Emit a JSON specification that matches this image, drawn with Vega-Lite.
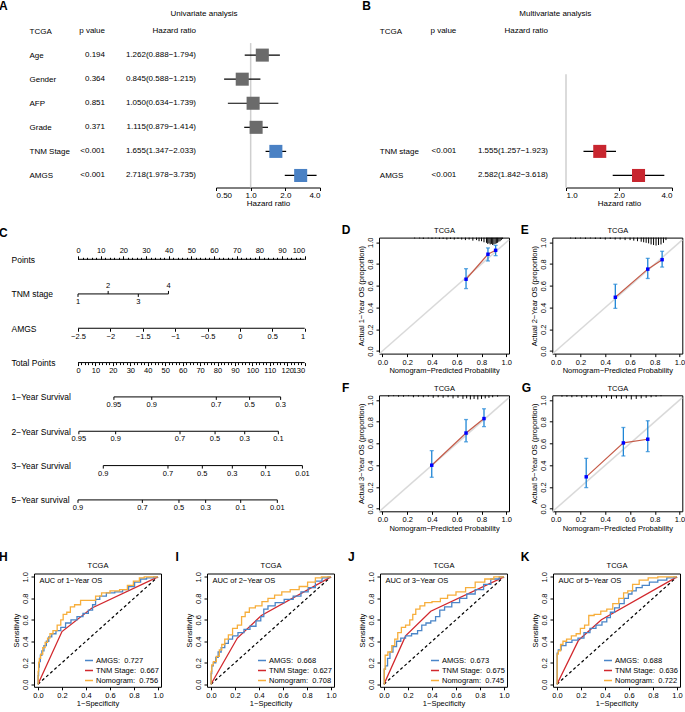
{
"$schema":"https://vega.github.io/schema/vega-lite/v6.json",
"padding":{"left":-2,"top":0,"right":0,"bottom":0},
"background":"white",
"config":{
 "font":"Liberation Sans",
 "view":{"stroke":null},
 "axis":{"labelFont":"Liberation Sans","titleFont":"Liberation Sans","labelColor":"black","titleColor":"black","domainColor":"black","tickColor":"black","grid":false,"titleFontWeight":"normal","labelFontSize":7.5,"titleFontSize":7.5},
 "title":{"font":"Liberation Sans","fontWeight":"normal","fontSize":7.5,"color":"black"},
 "legend":{"labelFont":"Liberation Sans","labelColor":"black"},
 "text":{"font":"Liberation Sans","color":"black"}
},
"datasets":{
 "uni":[
  {"var":"TCGA","p":"p value","hr":"Hazard ratio"},
  {"var":"Age","p":"0.194","hr":"1.262(0.888−1.794)","est":1.262,"lo":0.888,"hi":1.794},
  {"var":"Gender","p":"0.364","hr":"0.845(0.588−1.215)","est":0.845,"lo":0.588,"hi":1.215},
  {"var":"AFP","p":"0.851","hr":"1.050(0.634−1.739)","est":1.05,"lo":0.634,"hi":1.739},
  {"var":"Grade","p":"0.371","hr":"1.115(0.879−1.414)","est":1.115,"lo":0.879,"hi":1.414},
  {"var":"TNM Stage","p":"<0.001","hr":"1.655(1.347−2.033)","est":1.655,"lo":1.347,"hi":2.033},
  {"var":"AMGS","p":"<0.001","hr":"2.718(1.978−3.735)","est":2.718,"lo":1.978,"hi":3.735}
 ],
 "multi":[
  {"var":"TCGA","p":"p value","hr":"Hazard ratio"},
  {"var":"TNM stage","p":"<0.001","hr":"1.555(1.257−1.923)","est":1.555,"lo":1.257,"hi":1.923},
  {"var":"AMGS","p":"<0.001","hr":"2.582(1.842−3.618)","est":2.582,"lo":1.842,"hi":3.618}
 ],
 "nomo_scales":[
  {"row":"Points","lo":0,"hi":100},
  {"row":"AMGS","lo":-2.5,"hi":1},
  {"row":"Total Points","lo":0,"hi":130}
 ],
 "nomo_ticks":[
  {"row":"TNM stage","pos":0,"label":"1","side":"below"},
  {"row":"TNM stage","pos":13.3,"label":"2","side":"above"},
  {"row":"TNM stage","pos":26.6,"label":"3","side":"below"},
  {"row":"TNM stage","pos":39.9,"label":"4","side":"above"},
  {"row":"1−Year Survival","pos":20.6,"label":"0.95","side":"below"},
  {"row":"1−Year Survival","pos":42.3,"label":"0.9","side":"below"},
  {"row":"1−Year Survival","pos":79.3,"label":"0.7","side":"below"},
  {"row":"1−Year Survival","pos":98.4,"label":"0.5","side":"below"},
  {"row":"1−Year Survival","pos":116.2,"label":"0.3","side":"below"},
  {"row":"2−Year Survival","pos":0.5,"label":"0.95","side":"below"},
  {"row":"2−Year Survival","pos":21.6,"label":"0.9","side":"below"},
  {"row":"2−Year Survival","pos":58.5,"label":"0.7","side":"below"},
  {"row":"2−Year Survival","pos":78.6,"label":"0.5","side":"below"},
  {"row":"2−Year Survival","pos":95.6,"label":"0.3","side":"below"},
  {"row":"2−Year Survival","pos":114.9,"label":"0.1","side":"below"},
  {"row":"3−Year Survival","pos":14.5,"label":"0.9","side":"below"},
  {"row":"3−Year Survival","pos":51.6,"label":"0.7","side":"below"},
  {"row":"3−Year Survival","pos":71.3,"label":"0.5","side":"below"},
  {"row":"3−Year Survival","pos":88.5,"label":"0.3","side":"below"},
  {"row":"3−Year Survival","pos":107.6,"label":"0.1","side":"below"},
  {"row":"3−Year Survival","pos":128.7,"label":"0.01","side":"below"},
  {"row":"5−Year survival","pos":0,"label":"0.9","side":"below"},
  {"row":"5−Year survival","pos":36.9,"label":"0.7","side":"below"},
  {"row":"5−Year survival","pos":57.9,"label":"0.5","side":"below"},
  {"row":"5−Year survival","pos":73.2,"label":"0.3","side":"below"},
  {"row":"5−Year survival","pos":93.3,"label":"0.1","side":"below"},
  {"row":"5−Year survival","pos":114.3,"label":"0.01","side":"below"}
 ],
 "cal":[
  {"panel":"D","pred":0.675,"obs":0.66,"lo":0.574,"hi":0.757},
  {"panel":"D","pred":0.852,"obs":0.89,"lo":0.828,"hi":0.948},
  {"panel":"D","pred":0.914,"obs":0.926,"lo":0.877,"hi":0.972},
  {"panel":"E","pred":0.481,"obs":0.494,"lo":0.392,"hi":0.614},
  {"panel":"E","pred":0.743,"obs":0.753,"lo":0.667,"hi":0.852},
  {"panel":"E","pred":0.859,"obs":0.84,"lo":0.772,"hi":0.917},
  {"panel":"F","pred":0.398,"obs":0.4,"lo":0.289,"hi":0.534},
  {"panel":"F","pred":0.675,"obs":0.696,"lo":0.615,"hi":0.82},
  {"panel":"F","pred":0.82,"obs":0.829,"lo":0.755,"hi":0.919},
  {"panel":"G","pred":0.246,"obs":0.293,"lo":0.194,"hi":0.463},
  {"panel":"G","pred":0.546,"obs":0.605,"lo":0.485,"hi":0.747},
  {"panel":"G","pred":0.743,"obs":0.639,"lo":0.525,"hi":0.809}
 ],
 "spikes":[
  {"panel":"D","p":[0.26,0.3,0.33,0.37,0.4,0.43,0.46,0.49,0.52,0.55,0.58,0.61,0.64,0.67,0.7,0.73,0.76,0.78,0.8,0.82,0.84,0.85,0.86,0.87,0.88,0.89,0.9,0.91,0.92,0.93,0.94,0.95,0.96,0.97],
   "lo":[1.035,1.035,1.03,1.035,1.03,1.035,1.03,1.03,1.025,1.03,1.025,1.03,1.025,1.02,1.025,1.015,1.02,1.01,1.01,1.0,0.995,0.985,0.99,0.98,0.985,0.975,0.98,0.985,0.99,0.995,1.005,1.01,1.02,1.03]},
  {"panel":"E","p":[0.12,0.16,0.2,0.24,0.28,0.32,0.36,0.4,0.44,0.48,0.52,0.56,0.6,0.63,0.66,0.69,0.71,0.73,0.75,0.77,0.79,0.81,0.83,0.85,0.87,0.89],
   "lo":[1.035,1.03,1.035,1.03,1.035,1.03,1.03,1.025,1.03,1.025,1.025,1.02,1.02,1.015,1.01,1.005,1.0,0.995,0.99,0.98,0.975,0.97,0.975,0.98,0.995,1.02]},
  {"panel":"F","p":[0.05,0.09,0.13,0.17,0.21,0.25,0.29,0.33,0.37,0.41,0.45,0.49,0.53,0.57,0.61,0.65,0.68,0.71,0.74,0.77,0.8,0.83,0.86,0.89,0.93],
   "lo":[1.03,1.035,1.03,1.03,1.035,1.025,1.03,1.025,1.03,1.02,1.025,1.02,1.025,1.015,1.02,1.01,1.015,1.005,1.01,1.005,1.01,1.015,1.02,1.025,1.03]},
  {"panel":"G","p":[0.05,0.09,0.13,0.17,0.21,0.25,0.29,0.33,0.37,0.41,0.45,0.49,0.53,0.57,0.61,0.65,0.69,0.73,0.77,0.81,0.85],
   "lo":[1.03,1.03,1.025,1.03,1.02,1.025,1.02,1.025,1.015,1.02,1.01,1.015,1.01,1.015,1.005,1.01,1.015,1.02,1.025,1.03,1.035]}
 ],
 "roc":[
  {"panel":"H","model":"AMGS","auc":"0.727","fpr":[0,0.003,0.008,0.015,0.025,0.04,0.06,0.08,0.1,0.13,0.17,0.21,0.25,0.3,0.35,0.4,0.44,0.47,0.49,0.54,0.6,0.68,0.73,0.78,0.83,0.88,0.93,1],"tpr":[0,0.08,0.16,0.21,0.27,0.31,0.36,0.4,0.44,0.47,0.5,0.53,0.57,0.6,0.63,0.66,0.69,0.74,0.79,0.82,0.85,0.86,0.88,0.91,0.95,0.98,0.99,1]},
  {"panel":"H","model":"TNM Stage","auc":"0.667","fpr":[0,0.2,0.45,1],"tpr":[0,0.49,0.71,1]},
  {"panel":"H","model":"Nomogram","auc":"0.756","fpr":[0,0.003,0.008,0.015,0.03,0.05,0.07,0.09,0.11,0.14,0.18,0.2,0.22,0.26,0.28,0.33,0.38,0.46,0.5,0.56,0.64,0.72,0.77,0.82,0.87,0.9,1],"tpr":[0,0.12,0.2,0.24,0.28,0.34,0.39,0.43,0.47,0.5,0.55,0.6,0.65,0.67,0.72,0.74,0.78,0.78,0.82,0.85,0.87,0.88,0.92,0.96,0.99,1,1]},
  {"panel":"I","model":"AMGS","auc":"0.668","fpr":[0,0.003,0.01,0.03,0.05,0.07,0.1,0.13,0.16,0.2,0.25,0.3,0.35,0.4,0.43,0.45,0.5,0.57,0.65,0.72,0.78,0.84,0.9,0.95,1],"tpr":[0,0.1,0.17,0.2,0.25,0.3,0.34,0.38,0.42,0.45,0.48,0.51,0.54,0.59,0.63,0.7,0.73,0.76,0.79,0.82,0.86,0.9,0.96,0.99,1]},
  {"panel":"I","model":"TNM Stage","auc":"0.627","fpr":[0,0.22,0.42,1],"tpr":[0,0.43,0.64,1]},
  {"panel":"I","model":"Nomogram","auc":"0.708","fpr":[0,0.003,0.01,0.03,0.06,0.08,0.1,0.13,0.16,0.2,0.24,0.27,0.3,0.34,0.4,0.45,0.5,0.56,0.62,0.7,0.77,0.84,0.9,0.94,1],"tpr":[0,0.12,0.18,0.21,0.26,0.32,0.37,0.42,0.46,0.52,0.55,0.63,0.67,0.71,0.73,0.77,0.8,0.83,0.86,0.88,0.91,0.95,0.99,1,1]},
  {"panel":"J","model":"AMGS","auc":"0.673","fpr":[0,0.005,0.02,0.04,0.06,0.09,0.12,0.16,0.2,0.26,0.3,0.33,0.37,0.41,0.45,0.48,0.53,0.6,0.66,0.72,0.8,0.86,0.92,1],"tpr":[0,0.14,0.17,0.24,0.3,0.35,0.4,0.43,0.45,0.47,0.5,0.55,0.57,0.59,0.63,0.69,0.72,0.76,0.8,0.84,0.88,0.93,0.98,1]},
  {"panel":"J","model":"TNM Stage","auc":"0.675","fpr":[0,0.18,0.39,1],"tpr":[0,0.45,0.68,1]},
  {"panel":"J","model":"Nomogram","auc":"0.745","fpr":[0,0.005,0.015,0.05,0.08,0.1,0.13,0.16,0.2,0.23,0.25,0.28,0.32,0.36,0.44,0.5,0.56,0.64,0.72,0.8,0.88,0.95,1],"tpr":[0,0.14,0.27,0.3,0.36,0.42,0.48,0.53,0.55,0.6,0.65,0.7,0.73,0.76,0.77,0.8,0.83,0.86,0.9,0.95,0.98,1,1]},
  {"panel":"K","model":"AMGS","auc":"0.688","fpr":[0,0.003,0.02,0.05,0.1,0.15,0.2,0.25,0.3,0.35,0.4,0.43,0.46,0.5,0.54,0.58,0.61,0.64,0.68,0.74,0.8,0.88,0.95,1],"tpr":[0,0.29,0.32,0.36,0.39,0.41,0.43,0.48,0.52,0.55,0.58,0.62,0.67,0.71,0.75,0.8,0.84,0.87,0.9,0.92,0.95,0.97,0.99,1]},
  {"panel":"K","model":"TNM Stage","auc":"0.636","fpr":[0,0.18,0.37,1],"tpr":[0,0.41,0.6,1]},
  {"panel":"K","model":"Nomogram","auc":"0.722","fpr":[0,0.003,0.02,0.04,0.06,0.1,0.14,0.18,0.21,0.25,0.28,0.34,0.39,0.44,0.49,0.54,0.57,0.61,0.65,0.72,0.8,0.88,1],"tpr":[0,0.28,0.31,0.37,0.4,0.42,0.45,0.47,0.52,0.55,0.64,0.65,0.68,0.7,0.75,0.8,0.85,0.87,0.93,0.97,0.99,1,1]}
 ]
},
"vconcat":[
 {"vconcat":[
  {"hconcat":[
   {"width":71,"height":168.5,
    "title":{"text":"A","anchor":"start","frame":"group","fontSize":12,"fontWeight":"bold","dx":-35,"offset":6},
    "data":{"name":"uni"},
    "mark":{"type":"text","align":"right","baseline":"middle","fontSize":8},
    "encoding":{
     "y":{"field":"var","type":"nominal","sort":null,"scale":{"domain":["TCGA","Age","Gender","AFP","Grade","TNM Stage","AMGS"],"paddingInner":0,"paddingOuter":0},"axis":{"title":null,"domain":false,"ticks":false,"labelAlign":"left","labelPadding":5,"labelFontSize":8,"labelBaseline":"middle"}},
     "x":{"value":"width"},
     "text":{"field":"p","type":"nominal"}
    }},
   {"width":110.7,"height":168.5,
    "data":{"name":"uni"},
    "mark":{"type":"text","align":"right","baseline":"middle","fontSize":8,"dx":-19.7},
    "encoding":{
     "y":{"field":"var","type":"nominal","sort":null,"scale":{"domain":["TCGA","Age","Gender","AFP","Grade","TNM Stage","AMGS"],"paddingInner":0,"paddingOuter":0},"axis":null},
     "x":{"value":"width"},
     "text":{"field":"hr","type":"nominal"}
    }},
   {"width":104,"height":168.5,
    "title":{"text":"Univariate analysis","anchor":"middle","dx":-64,"offset":1,"fontSize":8},
    "data":{"name":"uni"},
    "encoding":{"y":{"field":"var","type":"nominal","sort":null,"scale":{"domain":["TCGA","Age","Gender","AFP","Grade","TNM Stage","AMGS"],"paddingInner":0,"paddingOuter":0},"axis":null}},
    "layer":[
     {"transform":[{"aggregate":[{"op":"count","as":"n"}]}],
      "mark":{"type":"rule","color":"#CFCFCF","strokeWidth":1.5},
      "encoding":{"x":{"datum":1,"type":"quantitative","scale":{"type":"log","domain":[0.5,4],"nice":false}},"y":{"datum":"Age","type":"nominal","bandPosition":0,"axis":null},"y2":{"value":"height"}}},
     {"transform":[{"filter":"isValid(datum.est)"}],
      "mark":{"type":"rule","color":"black","strokeWidth":1.2},
      "encoding":{"x":{"field":"lo","type":"quantitative","scale":{"type":"log","domain":[0.5,4],"nice":false},"axis":{"values":[0.5,1,2,4],"labelExpr":"datum.value === 0.5 ? '0.50' : format(datum.value, '.1f')","title":"Hazard ratio","tickSize":3,"labelPadding":1,"titlePadding":0,"labelFontSize":8,"titleFontSize":8,"labelOverlap":false}},"x2":{"field":"hi"}}},
     {"transform":[{"filter":"isValid(datum.est)"}],
      "mark":{"type":"square","size":170,"opacity":1,"filled":true},
      "encoding":{"x":{"field":"est","type":"quantitative","scale":{"type":"log","domain":[0.5,4],"nice":false}},"color":{"condition":{"test":"datum.p === '<0.001'","value":"#4A81C4"},"value":"#6B6B6B"}}}
    ]},
   {"width":136.3,"height":168.5,
    "title":{"text":"B","anchor":"start","frame":"group","fontSize":12,"fontWeight":"bold","dx":42.3,"offset":6},
    "data":{"name":"multi"},
    "mark":{"type":"text","align":"right","baseline":"middle","fontSize":8},
    "encoding":{
     "y":{"field":"var","type":"nominal","sort":null,"scale":{"domain":["TCGA","_1","_2","_3","_4","TNM stage","AMGS"],"paddingInner":0,"paddingOuter":0},"axis":{"title":null,"domain":false,"ticks":false,"labelAlign":"left","labelPadding":-59.3,"labelFontSize":8,"labelBaseline":"middle","labelExpr":"indexof(datum.value, '_') === 0 ? '' : datum.label"}},
     "x":{"value":"width"},
     "text":{"field":"p","type":"nominal"}
    }},
   {"width":108.7,"height":168.5,
    "data":{"name":"multi"},
    "mark":{"type":"text","align":"right","baseline":"middle","fontSize":8,"dx":-17.7},
    "encoding":{
     "y":{"field":"var","type":"nominal","sort":null,"scale":{"domain":["TCGA","_1","_2","_3","_4","TNM stage","AMGS"],"paddingInner":0,"paddingOuter":0},"axis":null},
     "x":{"value":"width"},
     "text":{"field":"hr","type":"nominal"}
    }},
   {"width":106,"height":168.5,
    "title":{"text":"Multivariate analysis","anchor":"middle","dx":-63.7,"offset":1,"fontSize":8},
    "data":{"name":"multi"},
    "encoding":{"y":{"field":"var","type":"nominal","sort":null,"scale":{"domain":["TCGA","_1","_2","_3","_4","TNM stage","AMGS"],"paddingInner":0,"paddingOuter":0},"axis":null}},
    "layer":[
     {"transform":[{"aggregate":[{"op":"count","as":"n"}]}],
      "mark":{"type":"rule","color":"#CFCFCF","strokeWidth":1.5},
      "encoding":{"x":{"datum":1,"type":"quantitative","scale":{"type":"log","domain":[1,4],"nice":false}},"y":{"datum":"_2","type":"nominal","bandPosition":0.3,"axis":null},"y2":{"value":"height"}}},
     {"transform":[{"filter":"isValid(datum.est)"}],
      "mark":{"type":"rule","color":"black","strokeWidth":1.2},
      "encoding":{"x":{"field":"lo","type":"quantitative","scale":{"type":"log","domain":[1,4],"nice":false},"axis":{"values":[1,2,4],"format":".1f","title":"Hazard ratio","tickSize":3,"labelPadding":1,"titlePadding":0,"labelFontSize":8,"titleFontSize":8,"labelOverlap":false}},"x2":{"field":"hi"}}},
     {"transform":[{"filter":"isValid(datum.est)"}],
      "mark":{"type":"square","size":170,"opacity":1,"filled":true,"color":"#C8262F"},
      "encoding":{"x":{"field":"est","type":"quantitative","scale":{"type":"log","domain":[1,4],"nice":false}}}}
    ]}
  ],"spacing":0,"bounds":"flush"},
  {"hconcat":[
   {"vconcat":[
    {"width":270.7,"height":27.7,
     "title":{"text":"C","anchor":"start","frame":"group","fontSize":12,"fontWeight":"bold","dx":-35,"offset":0,"dy":2},
     "data":{"name":"nomo_scales"},
     "transform":[{"filter":"datum.row === 'Points'"}],
     "mark":{"type":"rule","color":"black","strokeWidth":1},
     "encoding":{
      "x":{"field":"lo","type":"quantitative","scale":{"domain":[-19.41,100],"nice":false,"zero":false},"axis":{"orient":"top","offset":-21.7,"domain":false,"title":null,"values":[0,2,4,6,8,10,12,14,16,18,20,22,24,26,28,30,32,34,36,38,40,42,44,46,48,50,52,54,56,58,60,62,64,66,68,70,72,74,76,78,80,82,84,86,88,90,92,94,96,98,100],"labelExpr":"datum.value % 10 === 0 ? datum.label : ''","tickSize":{"condition":{"test":"datum.value % 10 === 0","value":3.5},"value":2},"labelPadding":1,"labelOverlap":false}},
      "x2":{"field":"hi"},
      "y":{"datum":0,"type":"quantitative","scale":{"domain":[-1,3.617],"nice":false,"zero":false},"axis":{"title":"Points","domain":false,"ticks":false,"labels":false,"titleAngle":0,"titleAlign":"left","titleBaseline":"middle","titlePadding":23,"titleY":21.7,"titleFontSize":8.5}}
     }},
    {"width":270.7,"height":12,
     "data":{"name":"nomo_ticks"},
     "transform":[{"filter":"datum.row === 'TNM stage'"}],
     "encoding":{
      "x":{"field":"pos","type":"quantitative","scale":{"domain":[-19.41,100],"nice":false,"zero":false},"axis":null},
      "y":{"datum":0,"type":"quantitative","scale":{"domain":[-1,1],"nice":false},"axis":{"title":"TNM stage","domain":false,"ticks":false,"labels":false,"titleAngle":0,"titleAlign":"left","titleBaseline":"middle","titlePadding":23,"titleFontSize":8.5}}
     },
     "layer":[
      {"mark":{"type":"rule","color":"black"},"encoding":{"x":{"aggregate":"min","field":"pos","type":"quantitative","scale":{"domain":[-19.41,100],"nice":false,"zero":false},"axis":null},"x2":{"aggregate":"max","field":"pos"}}},
      {"transform":[{"filter":"datum.side === 'above'"}],"mark":{"type":"rule","color":"black"},"encoding":{"y2":{"datum":0.5}}},
      {"transform":[{"filter":"datum.side !== 'above'"}],"mark":{"type":"rule","color":"black"},"encoding":{"y2":{"datum":-0.5}}},
      {"transform":[{"filter":"datum.side === 'above'"}],"mark":{"type":"text","baseline":"bottom","dy":-4,"fontSize":7.5},"encoding":{"text":{"field":"label"}}},
      {"transform":[{"filter":"datum.side !== 'above'"}],"mark":{"type":"text","baseline":"top","dy":4,"fontSize":7.5},"encoding":{"text":{"field":"label"}}}
     ]},
    {"width":270.7,"height":12,
     "data":{"name":"nomo_scales"},
     "transform":[{"filter":"datum.row === 'AMGS'"}],
     "mark":{"type":"rule","color":"black","strokeWidth":1},
     "encoding":{
      "x":{"field":"lo","type":"quantitative","scale":{"domain":[-3.179,1],"nice":false,"zero":false},"axis":{"orient":"bottom","offset":-6,"domain":false,"title":null,"values":[-2.5,-2,-1.5,-1,-0.5,0,0.5,1],"format":".1~f","tickSize":3,"labelPadding":1.5,"labelOverlap":false}},
      "x2":{"field":"hi"},
      "y":{"datum":0,"type":"quantitative","scale":{"domain":[-1,1],"nice":false},"axis":{"title":"AMGS","domain":false,"ticks":false,"labels":false,"titleAngle":0,"titleAlign":"left","titleBaseline":"middle","titlePadding":23,"titleFontSize":8.5}}
     }},
    {"width":270.7,"height":12,
     "data":{"name":"nomo_scales"},
     "transform":[{"filter":"datum.row === 'Total Points'"}],
     "mark":{"type":"rule","color":"black","strokeWidth":1},
     "encoding":{
      "x":{"field":"lo","type":"quantitative","scale":{"domain":[-25.23,130],"nice":false,"zero":false},"axis":{"orient":"bottom","offset":-6,"domain":false,"title":null,"values":[0,2,4,6,8,10,12,14,16,18,20,22,24,26,28,30,32,34,36,38,40,42,44,46,48,50,52,54,56,58,60,62,64,66,68,70,72,74,76,78,80,82,84,86,88,90,92,94,96,98,100,102,104,106,108,110,112,114,116,118,120,122,124,126,128,130],"labelExpr":"datum.value % 10 === 0 ? datum.label : ''","tickSize":{"condition":{"test":"datum.value % 10 === 0","value":3},"value":2},"labelPadding":1,"labelOverlap":false}},
      "x2":{"field":"hi"},
      "y":{"datum":0,"type":"quantitative","scale":{"domain":[-1,1],"nice":false},"axis":{"title":"Total Points","domain":false,"ticks":false,"labels":false,"titleAngle":0,"titleAlign":"left","titleBaseline":"middle","titlePadding":23,"titleFontSize":8.5}}
     }},
    {"width":270.7,"height":12,
     "data":{"name":"nomo_ticks"},
     "transform":[{"filter":"datum.row === '1−Year Survival'"}],
     "encoding":{
      "x":{"field":"pos","type":"quantitative","scale":{"domain":[-25.23,130],"nice":false,"zero":false},"axis":null},
      "y":{"datum":0,"type":"quantitative","scale":{"domain":[-1,1],"nice":false},"axis":{"title":"1−Year Survival","domain":false,"ticks":false,"labels":false,"titleAngle":0,"titleAlign":"left","titleBaseline":"middle","titlePadding":23,"titleFontSize":8.5}}
     },
     "layer":[
      {"mark":{"type":"rule","color":"black"},"encoding":{"x":{"aggregate":"min","field":"pos","type":"quantitative","scale":{"domain":[-25.23,130],"nice":false,"zero":false},"axis":null},"x2":{"aggregate":"max","field":"pos"}}},
      {"mark":{"type":"rule","color":"black"},"encoding":{"y2":{"datum":-0.5}}},
      {"mark":{"type":"text","baseline":"top","dy":4,"fontSize":7.5},"encoding":{"text":{"field":"label"}}}
     ]},
    {"width":270.7,"height":12,
     "data":{"name":"nomo_ticks"},
     "transform":[{"filter":"datum.row === '2−Year Survival'"}],
     "encoding":{
      "x":{"field":"pos","type":"quantitative","scale":{"domain":[-25.23,130],"nice":false,"zero":false},"axis":null},
      "y":{"datum":0,"type":"quantitative","scale":{"domain":[-1,1],"nice":false},"axis":{"title":"2−Year Survival","domain":false,"ticks":false,"labels":false,"titleAngle":0,"titleAlign":"left","titleBaseline":"middle","titlePadding":23,"titleFontSize":8.5}}
     },
     "layer":[
      {"mark":{"type":"rule","color":"black"},"encoding":{"x":{"aggregate":"min","field":"pos","type":"quantitative","scale":{"domain":[-25.23,130],"nice":false,"zero":false},"axis":null},"x2":{"aggregate":"max","field":"pos"}}},
      {"mark":{"type":"rule","color":"black"},"encoding":{"y2":{"datum":-0.5}}},
      {"mark":{"type":"text","baseline":"top","dy":4,"fontSize":7.5},"encoding":{"text":{"field":"label"}}}
     ]},
    {"width":270.7,"height":12,
     "data":{"name":"nomo_ticks"},
     "transform":[{"filter":"datum.row === '3−Year Survival'"}],
     "encoding":{
      "x":{"field":"pos","type":"quantitative","scale":{"domain":[-25.23,130],"nice":false,"zero":false},"axis":null},
      "y":{"datum":0,"type":"quantitative","scale":{"domain":[-1,1],"nice":false},"axis":{"title":"3−Year Survival","domain":false,"ticks":false,"labels":false,"titleAngle":0,"titleAlign":"left","titleBaseline":"middle","titlePadding":23,"titleFontSize":8.5}}
     },
     "layer":[
      {"mark":{"type":"rule","color":"black"},"encoding":{"x":{"aggregate":"min","field":"pos","type":"quantitative","scale":{"domain":[-25.23,130],"nice":false,"zero":false},"axis":null},"x2":{"aggregate":"max","field":"pos"}}},
      {"mark":{"type":"rule","color":"black"},"encoding":{"y2":{"datum":-0.5}}},
      {"mark":{"type":"text","baseline":"top","dy":4,"fontSize":7.5},"encoding":{"text":{"field":"label"}}}
     ]},
    {"width":270.7,"height":12,
     "data":{"name":"nomo_ticks"},
     "transform":[{"filter":"datum.row === '5−Year survival'"}],
     "encoding":{
      "x":{"field":"pos","type":"quantitative","scale":{"domain":[-25.23,130],"nice":false,"zero":false},"axis":null},
      "y":{"datum":0,"type":"quantitative","scale":{"domain":[-1,1],"nice":false},"axis":{"title":"5−Year survival","domain":false,"ticks":false,"labels":false,"titleAngle":0,"titleAlign":"left","titleBaseline":"middle","titlePadding":23,"titleFontSize":8.5}}
     },
     "layer":[
      {"mark":{"type":"rule","color":"black"},"encoding":{"x":{"aggregate":"min","field":"pos","type":"quantitative","scale":{"domain":[-25.23,130],"nice":false,"zero":false},"axis":null},"x2":{"aggregate":"max","field":"pos"}}},
      {"mark":{"type":"rule","color":"black"},"encoding":{"y2":{"datum":-0.5}}},
      {"mark":{"type":"text","baseline":"top","dy":4,"fontSize":7.5},"encoding":{"text":{"field":"label"}}}
     ]}
   ],"spacing":22.33,"bounds":"flush"},
   {"concat":[
    {"width":130,"height":116,
     "view":{"stroke":"black","strokeWidth":1},
     "title":{"text":"D","anchor":"start","frame":"group","fontSize":12,"fontWeight":"bold","dx":-37.3,"offset":0,"dy":10.5},
     "data":{"name":"cal"},
     "transform":[{"filter":"datum.panel === 'D'"}],
     "resolve":{"axis":{"x":"independent"}},
     "layer":[
      {"transform":[{"aggregate":[{"op":"count","as":"n"}]}],"mark":{"type":"rule","color":"#D9D9D9","strokeWidth":1.5},
       "encoding":{"x":{"datum":-0.028,"type":"quantitative","scale":{"domain":[-0.028,1.022],"nice":false,"zero":false},"axis":{"orient":"top","title":"TCGA","labels":false,"ticks":false,"domain":false,"titlePadding":3}},
        "y":{"datum":-0.028,"type":"quantitative","scale":{"domain":[-0.024,1.043],"nice":false,"zero":false},"axis":{"title":"Actual 1−Year OS (proportion)","values":[0,0.2,0.4,0.6,0.8,1],"format":".1f","domain":false,"tickSize":3,"labelAngle":270,"labelAlign":"center","labelBaseline":"bottom","labelPadding":1.5,"titlePadding":1,"labelOverlap":false}},
        "x2":{"datum":1.022},"y2":{"datum":1.022}}},
      {"encoding":{
        "x":{"field":"pred","type":"quantitative","scale":{"domain":[-0.028,1.022],"nice":false,"zero":false},"axis":{"title":"Nomogram−Predicted Probability","values":[0,0.2,0.4,0.6,0.8,1],"format":".1f","domain":false,"tickSize":3,"labelPadding":1.5,"titlePadding":1,"labelOverlap":false}},
        "y":{"field":"obs","type":"quantitative","scale":{"domain":[-0.024,1.043],"nice":false,"zero":false},"axis":{"title":"Actual 1−Year OS (proportion)","values":[0,0.2,0.4,0.6,0.8,1],"format":".1f","domain":false,"tickSize":3,"labelAngle":270,"labelAlign":"center","labelBaseline":"bottom","labelPadding":1.5,"titlePadding":1,"labelOverlap":false}}},
       "layer":[
        {"data":{"name":"spikes"},"transform":[{"filter":"datum.panel === 'D'"},{"flatten":["p","lo"]}],"mark":{"type":"rule","color":"black","strokeWidth":1},"encoding":{"x":{"field":"p","type":"quantitative"},"y":{"field":"lo","type":"quantitative"},"y2":{"datum":1.043}}},
        {"mark":{"type":"line","color":"#C55A47","strokeWidth":1.2}},
        {"mark":{"type":"rule","color":"#1F86D6","strokeWidth":1.3},"encoding":{"y":{"field":"lo","type":"quantitative"},"y2":{"field":"hi"}}},
        {"mark":{"type":"tick","orient":"horizontal","color":"#1F86D6","size":4,"thickness":1.3},"encoding":{"y":{"field":"lo","type":"quantitative"}}},
        {"mark":{"type":"tick","orient":"horizontal","color":"#1F86D6","size":4,"thickness":1.3},"encoding":{"y":{"field":"hi","type":"quantitative"}}},
        {"mark":{"type":"square","color":"#0000FF","size":12,"opacity":1}}
       ]}
     ]},
    {"width":130,"height":116,
     "view":{"stroke":"black","strokeWidth":1},
     "title":{"text":"E","anchor":"start","frame":"group","fontSize":12,"fontWeight":"bold","dx":-31.6,"offset":0,"dy":10.5},
     "data":{"name":"cal"},
     "transform":[{"filter":"datum.panel === 'E'"}],
     "resolve":{"axis":{"x":"independent"}},
     "layer":[
      {"transform":[{"aggregate":[{"op":"count","as":"n"}]}],"mark":{"type":"rule","color":"#D9D9D9","strokeWidth":1.5},
       "encoding":{"x":{"datum":-0.028,"type":"quantitative","scale":{"domain":[-0.028,1.022],"nice":false,"zero":false},"axis":{"orient":"top","title":"TCGA","labels":false,"ticks":false,"domain":false,"titlePadding":3}},
        "y":{"datum":-0.028,"type":"quantitative","scale":{"domain":[-0.024,1.043],"nice":false,"zero":false},"axis":{"title":"Actual 2−Year OS (proportion)","values":[0,0.2,0.4,0.6,0.8,1],"format":".1f","domain":false,"tickSize":3,"labelAngle":270,"labelAlign":"center","labelBaseline":"bottom","labelPadding":1.5,"titlePadding":1,"labelOverlap":false}},
        "x2":{"datum":1.022},"y2":{"datum":1.022}}},
      {"encoding":{
        "x":{"field":"pred","type":"quantitative","scale":{"domain":[-0.028,1.022],"nice":false,"zero":false},"axis":{"title":"Nomogram−Predicted Probability","values":[0,0.2,0.4,0.6,0.8,1],"format":".1f","domain":false,"tickSize":3,"labelPadding":1.5,"titlePadding":1,"labelOverlap":false}},
        "y":{"field":"obs","type":"quantitative","scale":{"domain":[-0.024,1.043],"nice":false,"zero":false},"axis":{"title":"Actual 2−Year OS (proportion)","values":[0,0.2,0.4,0.6,0.8,1],"format":".1f","domain":false,"tickSize":3,"labelAngle":270,"labelAlign":"center","labelBaseline":"bottom","labelPadding":1.5,"titlePadding":1,"labelOverlap":false}}},
       "layer":[
        {"data":{"name":"spikes"},"transform":[{"filter":"datum.panel === 'E'"},{"flatten":["p","lo"]}],"mark":{"type":"rule","color":"black","strokeWidth":1},"encoding":{"x":{"field":"p","type":"quantitative"},"y":{"field":"lo","type":"quantitative"},"y2":{"datum":1.043}}},
        {"mark":{"type":"line","color":"#C55A47","strokeWidth":1.2}},
        {"mark":{"type":"rule","color":"#1F86D6","strokeWidth":1.3},"encoding":{"y":{"field":"lo","type":"quantitative"},"y2":{"field":"hi"}}},
        {"mark":{"type":"tick","orient":"horizontal","color":"#1F86D6","size":4,"thickness":1.3},"encoding":{"y":{"field":"lo","type":"quantitative"}}},
        {"mark":{"type":"tick","orient":"horizontal","color":"#1F86D6","size":4,"thickness":1.3},"encoding":{"y":{"field":"hi","type":"quantitative"}}},
        {"mark":{"type":"square","color":"#0000FF","size":12,"opacity":1}}
       ]}
     ]},
    {"width":130,"height":116,
     "view":{"stroke":"black","strokeWidth":1},
     "title":{"text":"F","anchor":"start","frame":"group","fontSize":12,"fontWeight":"bold","dx":-37,"offset":0,"dy":10.5},
     "data":{"name":"cal"},
     "transform":[{"filter":"datum.panel === 'F'"}],
     "resolve":{"axis":{"x":"independent"}},
     "layer":[
      {"transform":[{"aggregate":[{"op":"count","as":"n"}]}],"mark":{"type":"rule","color":"#D9D9D9","strokeWidth":1.5},
       "encoding":{"x":{"datum":-0.028,"type":"quantitative","scale":{"domain":[-0.028,1.022],"nice":false,"zero":false},"axis":{"orient":"top","title":"TCGA","labels":false,"ticks":false,"domain":false,"titlePadding":3}},
        "y":{"datum":-0.028,"type":"quantitative","scale":{"domain":[-0.024,1.043],"nice":false,"zero":false},"axis":{"title":"Actual 3−Year OS (proportion)","values":[0,0.2,0.4,0.6,0.8,1],"format":".1f","domain":false,"tickSize":3,"labelAngle":270,"labelAlign":"center","labelBaseline":"bottom","labelPadding":1.5,"titlePadding":1,"labelOverlap":false}},
        "x2":{"datum":1.022},"y2":{"datum":1.022}}},
      {"encoding":{
        "x":{"field":"pred","type":"quantitative","scale":{"domain":[-0.028,1.022],"nice":false,"zero":false},"axis":{"title":"Nomogram−Predicted Probability","values":[0,0.2,0.4,0.6,0.8,1],"format":".1f","domain":false,"tickSize":3,"labelPadding":1.5,"titlePadding":1,"labelOverlap":false}},
        "y":{"field":"obs","type":"quantitative","scale":{"domain":[-0.024,1.043],"nice":false,"zero":false},"axis":{"title":"Actual 3−Year OS (proportion)","values":[0,0.2,0.4,0.6,0.8,1],"format":".1f","domain":false,"tickSize":3,"labelAngle":270,"labelAlign":"center","labelBaseline":"bottom","labelPadding":1.5,"titlePadding":1,"labelOverlap":false}}},
       "layer":[
        {"data":{"name":"spikes"},"transform":[{"filter":"datum.panel === 'F'"},{"flatten":["p","lo"]}],"mark":{"type":"rule","color":"black","strokeWidth":1},"encoding":{"x":{"field":"p","type":"quantitative"},"y":{"field":"lo","type":"quantitative"},"y2":{"datum":1.043}}},
        {"mark":{"type":"line","color":"#C55A47","strokeWidth":1.2}},
        {"mark":{"type":"rule","color":"#1F86D6","strokeWidth":1.3},"encoding":{"y":{"field":"lo","type":"quantitative"},"y2":{"field":"hi"}}},
        {"mark":{"type":"tick","orient":"horizontal","color":"#1F86D6","size":4,"thickness":1.3},"encoding":{"y":{"field":"lo","type":"quantitative"}}},
        {"mark":{"type":"tick","orient":"horizontal","color":"#1F86D6","size":4,"thickness":1.3},"encoding":{"y":{"field":"hi","type":"quantitative"}}},
        {"mark":{"type":"square","color":"#0000FF","size":12,"opacity":1}}
       ]}
     ]},
    {"width":130,"height":116,
     "view":{"stroke":"black","strokeWidth":1},
     "title":{"text":"G","anchor":"start","frame":"group","fontSize":12,"fontWeight":"bold","dx":-30.6,"offset":0,"dy":10.5},
     "data":{"name":"cal"},
     "transform":[{"filter":"datum.panel === 'G'"}],
     "resolve":{"axis":{"x":"independent"}},
     "layer":[
      {"transform":[{"aggregate":[{"op":"count","as":"n"}]}],"mark":{"type":"rule","color":"#D9D9D9","strokeWidth":1.5},
       "encoding":{"x":{"datum":-0.028,"type":"quantitative","scale":{"domain":[-0.028,1.022],"nice":false,"zero":false},"axis":{"orient":"top","title":"TCGA","labels":false,"ticks":false,"domain":false,"titlePadding":3}},
        "y":{"datum":-0.028,"type":"quantitative","scale":{"domain":[-0.024,1.043],"nice":false,"zero":false},"axis":{"title":"Actual 5−Year OS (proportion)","values":[0,0.2,0.4,0.6,0.8,1],"format":".1f","domain":false,"tickSize":3,"labelAngle":270,"labelAlign":"center","labelBaseline":"bottom","labelPadding":1.5,"titlePadding":1,"labelOverlap":false}},
        "x2":{"datum":1.022},"y2":{"datum":1.022}}},
      {"encoding":{
        "x":{"field":"pred","type":"quantitative","scale":{"domain":[-0.028,1.022],"nice":false,"zero":false},"axis":{"title":"Nomogram−Predicted Probability","values":[0,0.2,0.4,0.6,0.8,1],"format":".1f","domain":false,"tickSize":3,"labelPadding":1.5,"titlePadding":1,"labelOverlap":false}},
        "y":{"field":"obs","type":"quantitative","scale":{"domain":[-0.024,1.043],"nice":false,"zero":false},"axis":{"title":"Actual 5−Year OS (proportion)","values":[0,0.2,0.4,0.6,0.8,1],"format":".1f","domain":false,"tickSize":3,"labelAngle":270,"labelAlign":"center","labelBaseline":"bottom","labelPadding":1.5,"titlePadding":1,"labelOverlap":false}}},
       "layer":[
        {"data":{"name":"spikes"},"transform":[{"filter":"datum.panel === 'G'"},{"flatten":["p","lo"]}],"mark":{"type":"rule","color":"black","strokeWidth":1},"encoding":{"x":{"field":"p","type":"quantitative"},"y":{"field":"lo","type":"quantitative"},"y2":{"datum":1.043}}},
        {"mark":{"type":"line","color":"#C55A47","strokeWidth":1.2}},
        {"mark":{"type":"rule","color":"#1F86D6","strokeWidth":1.3},"encoding":{"y":{"field":"lo","type":"quantitative"},"y2":{"field":"hi"}}},
        {"mark":{"type":"tick","orient":"horizontal","color":"#1F86D6","size":4,"thickness":1.3},"encoding":{"y":{"field":"lo","type":"quantitative"}}},
        {"mark":{"type":"tick","orient":"horizontal","color":"#1F86D6","size":4,"thickness":1.3},"encoding":{"y":{"field":"hi","type":"quantitative"}}},
        {"mark":{"type":"square","color":"#0000FF","size":12,"opacity":1}}
       ]}
     ]}
   ],"columns":2,"spacing":{"row":41.7,"column":43.3},"bounds":"flush"}
  ],"spacing":31}
 ],"spacing":15.6},
 {"hconcat":[
  {"width":127,"height":113.3,
   "view":{"stroke":"black","strokeWidth":1},
   "title":{"text":"H","anchor":"start","frame":"group","fontSize":12,"fontWeight":"bold","dx":-35,"offset":1,"dy":3.8},
   "data":{"name":"roc"},
   "transform":[{"filter":"datum.panel === 'H'"},{"flatten":["fpr","tpr"]},{"calculate":"datum.model + ':\u00a0 ' + datum.auc","as":"lab"}],
   "resolve":{"axis":{"x":"independent"}},
   "layer":[
    {"transform":[{"aggregate":[{"op":"count","as":"n"}]}],
     "encoding":{"x":{"datum":0,"type":"quantitative","scale":{"domain":[-0.033,1.025],"nice":false,"zero":false},"axis":{"orient":"top","title":"TCGA","labels":false,"ticks":false,"domain":false,"titlePadding":4}},
      "y":{"datum":0,"type":"quantitative","scale":{"domain":[-0.024,1.031],"nice":false,"zero":false},"axis":{"title":"Sensitivity","values":[0,0.2,0.4,0.6,0.8,1],"format":".1f","domain":false,"tickSize":3,"labelAngle":270,"labelAlign":"center","labelBaseline":"bottom","labelPadding":1.5,"titlePadding":1,"labelOverlap":false}}},
     "layer":[
      {"mark":{"type":"rule","color":"black","strokeWidth":1.2,"strokeDash":[3,2.5]},"encoding":{"x2":{"datum":1},"y2":{"datum":1}}},
      {"mark":{"type":"text","align":"left","baseline":"middle","fontSize":7.5},"encoding":{"x":{"datum":0.012},"y":{"datum":0.96},"text":{"value":"AUC of 1−Year OS"}}}
     ]},
    {"encoding":{
      "x":{"field":"fpr","type":"quantitative","scale":{"domain":[-0.033,1.025],"nice":false,"zero":false},"axis":{"title":"1−Specificity","values":[0,0.2,0.4,0.6,0.8,1],"format":".1f","domain":false,"tickSize":3,"labelPadding":1.5,"titlePadding":1,"labelOverlap":false}},
      "y":{"field":"tpr","type":"quantitative","scale":{"domain":[-0.024,1.031],"nice":false,"zero":false},"axis":{"title":"Sensitivity","values":[0,0.2,0.4,0.6,0.8,1],"format":".1f","domain":false,"tickSize":3,"labelAngle":270,"labelAlign":"center","labelBaseline":"bottom","labelPadding":1.5,"titlePadding":1,"labelOverlap":false}}},
     "layer":[
      {"transform":[{"filter":"datum.model === 'TNM Stage'"}],"mark":{"type":"line","strokeWidth":1.3},"encoding":{"color":{"field":"lab","type":"nominal","scale":{"domain":["AMGS:\u00a0 0.727","TNM Stage:\u00a0 0.667","Nomogram:\u00a0 0.756"],"range":["#4A85C8","#D2282D","#F7AE3B"]},"legend":{"orient":"bottom-right","title":null,"offset":2,"padding":0,"rowPadding":1,"labelFontSize":7.5,"symbolType":"stroke","symbolStrokeWidth":1.5,"symbolSize":64,"labelOffset":2,"labelLimit":200}}}},
      {"transform":[{"filter":"datum.model !== 'TNM Stage'"}],"mark":{"type":"line","interpolate":"step","strokeWidth":1.3},"encoding":{"color":{"field":"lab","type":"nominal","scale":{"domain":["AMGS:\u00a0 0.727","TNM Stage:\u00a0 0.667","Nomogram:\u00a0 0.756"],"range":["#4A85C8","#D2282D","#F7AE3B"]}}}}
     ]}
   ]},
  {"width":127,"height":113.3,
   "view":{"stroke":"black","strokeWidth":1},
   "title":{"text":"I","anchor":"start","frame":"group","fontSize":12,"fontWeight":"bold","dx":-31.6,"offset":1,"dy":3.8},
   "data":{"name":"roc"},
   "transform":[{"filter":"datum.panel === 'I'"},{"flatten":["fpr","tpr"]},{"calculate":"datum.model + ':\u00a0 ' + datum.auc","as":"lab"}],
   "resolve":{"axis":{"x":"independent"}},
   "layer":[
    {"transform":[{"aggregate":[{"op":"count","as":"n"}]}],
     "encoding":{"x":{"datum":0,"type":"quantitative","scale":{"domain":[-0.033,1.025],"nice":false,"zero":false},"axis":{"orient":"top","title":"TCGA","labels":false,"ticks":false,"domain":false,"titlePadding":4}},
      "y":{"datum":0,"type":"quantitative","scale":{"domain":[-0.024,1.031],"nice":false,"zero":false},"axis":{"title":"Sensitivity","values":[0,0.2,0.4,0.6,0.8,1],"format":".1f","domain":false,"tickSize":3,"labelAngle":270,"labelAlign":"center","labelBaseline":"bottom","labelPadding":1.5,"titlePadding":1,"labelOverlap":false}}},
     "layer":[
      {"mark":{"type":"rule","color":"black","strokeWidth":1.2,"strokeDash":[3,2.5]},"encoding":{"x2":{"datum":1},"y2":{"datum":1}}},
      {"mark":{"type":"text","align":"left","baseline":"middle","fontSize":7.5},"encoding":{"x":{"datum":0.012},"y":{"datum":0.96},"text":{"value":"AUC of 2−Year OS"}}}
     ]},
    {"encoding":{
      "x":{"field":"fpr","type":"quantitative","scale":{"domain":[-0.033,1.025],"nice":false,"zero":false},"axis":{"title":"1−Specificity","values":[0,0.2,0.4,0.6,0.8,1],"format":".1f","domain":false,"tickSize":3,"labelPadding":1.5,"titlePadding":1,"labelOverlap":false}},
      "y":{"field":"tpr","type":"quantitative","scale":{"domain":[-0.024,1.031],"nice":false,"zero":false},"axis":{"title":"Sensitivity","values":[0,0.2,0.4,0.6,0.8,1],"format":".1f","domain":false,"tickSize":3,"labelAngle":270,"labelAlign":"center","labelBaseline":"bottom","labelPadding":1.5,"titlePadding":1,"labelOverlap":false}}},
     "layer":[
      {"transform":[{"filter":"datum.model === 'TNM Stage'"}],"mark":{"type":"line","strokeWidth":1.3},"encoding":{"color":{"field":"lab","type":"nominal","scale":{"domain":["AMGS:\u00a0 0.668","TNM Stage:\u00a0 0.627","Nomogram:\u00a0 0.708"],"range":["#4A85C8","#D2282D","#F7AE3B"]},"legend":{"orient":"bottom-right","title":null,"offset":2,"padding":0,"rowPadding":1,"labelFontSize":7.5,"symbolType":"stroke","symbolStrokeWidth":1.5,"symbolSize":64,"labelOffset":2,"labelLimit":200}}}},
      {"transform":[{"filter":"datum.model !== 'TNM Stage'"}],"mark":{"type":"line","interpolate":"step","strokeWidth":1.3},"encoding":{"color":{"field":"lab","type":"nominal","scale":{"domain":["AMGS:\u00a0 0.668","TNM Stage:\u00a0 0.627","Nomogram:\u00a0 0.708"],"range":["#4A85C8","#D2282D","#F7AE3B"]}}}}
     ]}
   ]},
  {"width":127,"height":113.3,
   "view":{"stroke":"black","strokeWidth":1},
   "title":{"text":"J","anchor":"start","frame":"group","fontSize":12,"fontWeight":"bold","dx":-32,"offset":1,"dy":3.8},
   "data":{"name":"roc"},
   "transform":[{"filter":"datum.panel === 'J'"},{"flatten":["fpr","tpr"]},{"calculate":"datum.model + ':\u00a0 ' + datum.auc","as":"lab"}],
   "resolve":{"axis":{"x":"independent"}},
   "layer":[
    {"transform":[{"aggregate":[{"op":"count","as":"n"}]}],
     "encoding":{"x":{"datum":0,"type":"quantitative","scale":{"domain":[-0.033,1.025],"nice":false,"zero":false},"axis":{"orient":"top","title":"TCGA","labels":false,"ticks":false,"domain":false,"titlePadding":4}},
      "y":{"datum":0,"type":"quantitative","scale":{"domain":[-0.024,1.031],"nice":false,"zero":false},"axis":{"title":"Sensitivity","values":[0,0.2,0.4,0.6,0.8,1],"format":".1f","domain":false,"tickSize":3,"labelAngle":270,"labelAlign":"center","labelBaseline":"bottom","labelPadding":1.5,"titlePadding":1,"labelOverlap":false}}},
     "layer":[
      {"mark":{"type":"rule","color":"black","strokeWidth":1.2,"strokeDash":[3,2.5]},"encoding":{"x2":{"datum":1},"y2":{"datum":1}}},
      {"mark":{"type":"text","align":"left","baseline":"middle","fontSize":7.5},"encoding":{"x":{"datum":0.012},"y":{"datum":0.96},"text":{"value":"AUC of 3−Year OS"}}}
     ]},
    {"encoding":{
      "x":{"field":"fpr","type":"quantitative","scale":{"domain":[-0.033,1.025],"nice":false,"zero":false},"axis":{"title":"1−Specificity","values":[0,0.2,0.4,0.6,0.8,1],"format":".1f","domain":false,"tickSize":3,"labelPadding":1.5,"titlePadding":1,"labelOverlap":false}},
      "y":{"field":"tpr","type":"quantitative","scale":{"domain":[-0.024,1.031],"nice":false,"zero":false},"axis":{"title":"Sensitivity","values":[0,0.2,0.4,0.6,0.8,1],"format":".1f","domain":false,"tickSize":3,"labelAngle":270,"labelAlign":"center","labelBaseline":"bottom","labelPadding":1.5,"titlePadding":1,"labelOverlap":false}}},
     "layer":[
      {"transform":[{"filter":"datum.model === 'TNM Stage'"}],"mark":{"type":"line","strokeWidth":1.3},"encoding":{"color":{"field":"lab","type":"nominal","scale":{"domain":["AMGS:\u00a0 0.673","TNM Stage:\u00a0 0.675","Nomogram:\u00a0 0.745"],"range":["#4A85C8","#D2282D","#F7AE3B"]},"legend":{"orient":"bottom-right","title":null,"offset":2,"padding":0,"rowPadding":1,"labelFontSize":7.5,"symbolType":"stroke","symbolStrokeWidth":1.5,"symbolSize":64,"labelOffset":2,"labelLimit":200}}}},
      {"transform":[{"filter":"datum.model !== 'TNM Stage'"}],"mark":{"type":"line","interpolate":"step","strokeWidth":1.3},"encoding":{"color":{"field":"lab","type":"nominal","scale":{"domain":["AMGS:\u00a0 0.673","TNM Stage:\u00a0 0.675","Nomogram:\u00a0 0.745"],"range":["#4A85C8","#D2282D","#F7AE3B"]}}}}
     ]}
   ]},
  {"width":127,"height":113.3,
   "view":{"stroke":"black","strokeWidth":1},
   "title":{"text":"K","anchor":"start","frame":"group","fontSize":12,"fontWeight":"bold","dx":-32.3,"offset":1,"dy":3.8},
   "data":{"name":"roc"},
   "transform":[{"filter":"datum.panel === 'K'"},{"flatten":["fpr","tpr"]},{"calculate":"datum.model + ':\u00a0 ' + datum.auc","as":"lab"}],
   "resolve":{"axis":{"x":"independent"}},
   "layer":[
    {"transform":[{"aggregate":[{"op":"count","as":"n"}]}],
     "encoding":{"x":{"datum":0,"type":"quantitative","scale":{"domain":[-0.033,1.025],"nice":false,"zero":false},"axis":{"orient":"top","title":"TCGA","labels":false,"ticks":false,"domain":false,"titlePadding":4}},
      "y":{"datum":0,"type":"quantitative","scale":{"domain":[-0.024,1.031],"nice":false,"zero":false},"axis":{"title":"Sensitivity","values":[0,0.2,0.4,0.6,0.8,1],"format":".1f","domain":false,"tickSize":3,"labelAngle":270,"labelAlign":"center","labelBaseline":"bottom","labelPadding":1.5,"titlePadding":1,"labelOverlap":false}}},
     "layer":[
      {"mark":{"type":"rule","color":"black","strokeWidth":1.2,"strokeDash":[3,2.5]},"encoding":{"x2":{"datum":1},"y2":{"datum":1}}},
      {"mark":{"type":"text","align":"left","baseline":"middle","fontSize":7.5},"encoding":{"x":{"datum":0.012},"y":{"datum":0.96},"text":{"value":"AUC of 5−Year OS"}}}
     ]},
    {"encoding":{
      "x":{"field":"fpr","type":"quantitative","scale":{"domain":[-0.033,1.025],"nice":false,"zero":false},"axis":{"title":"1−Specificity","values":[0,0.2,0.4,0.6,0.8,1],"format":".1f","domain":false,"tickSize":3,"labelPadding":1.5,"titlePadding":1,"labelOverlap":false}},
      "y":{"field":"tpr","type":"quantitative","scale":{"domain":[-0.024,1.031],"nice":false,"zero":false},"axis":{"title":"Sensitivity","values":[0,0.2,0.4,0.6,0.8,1],"format":".1f","domain":false,"tickSize":3,"labelAngle":270,"labelAlign":"center","labelBaseline":"bottom","labelPadding":1.5,"titlePadding":1,"labelOverlap":false}}},
     "layer":[
      {"transform":[{"filter":"datum.model === 'TNM Stage'"}],"mark":{"type":"line","strokeWidth":1.3},"encoding":{"color":{"field":"lab","type":"nominal","scale":{"domain":["AMGS:\u00a0 0.688","TNM Stage:\u00a0 0.636","Nomogram:\u00a0 0.722"],"range":["#4A85C8","#D2282D","#F7AE3B"]},"legend":{"orient":"bottom-right","title":null,"offset":2,"padding":0,"rowPadding":1,"labelFontSize":7.5,"symbolType":"stroke","symbolStrokeWidth":1.5,"symbolSize":64,"labelOffset":2,"labelLimit":200}}}},
      {"transform":[{"filter":"datum.model !== 'TNM Stage'"}],"mark":{"type":"line","interpolate":"step","strokeWidth":1.3},"encoding":{"color":{"field":"lab","type":"nominal","scale":{"domain":["AMGS:\u00a0 0.688","TNM Stage:\u00a0 0.636","Nomogram:\u00a0 0.722"],"range":["#4A85C8","#D2282D","#F7AE3B"]}}}}
     ]}
   ]}
 ],"spacing":46,"bounds":"flush","resolve":{"scale":{"color":"independent"}}}
],
"spacing":17.5,
"resolve":{"scale":{"color":"independent"}}
}
